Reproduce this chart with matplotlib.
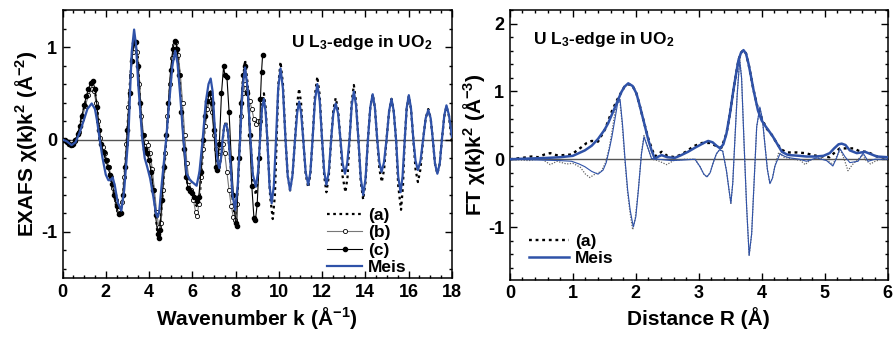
import matplotlib
matplotlib.use("Agg")
import matplotlib.pyplot as plt
from matplotlib.ticker import MultipleLocator

plt.rcParams['font.family'] = ['Liberation Sans', 'DejaVu Sans']
plt.rcParams['font.weight'] = 'bold'
plt.rcParams['mathtext.fontset'] = 'custom'
plt.rcParams['mathtext.rm'] = 'Liberation Sans:bold'
plt.rcParams['mathtext.it'] = 'Liberation Sans:bold'
plt.rcParams['mathtext.bf'] = 'Liberation Sans:bold'
plt.rcParams['axes.unicode_minus'] = False

# ---- left panel: k-space EXAFS, (k, chi*k^2) ----
meis_k = [
    (0, 0), (0.2, -0.02), (0.42, -0.06), (0.6, -0.03), (0.8, 0.08), (1.0, 0.22), (1.15, 0.33),
    (1.35, 0.39), (1.5, 0.33), (1.6, 0.2), (1.72, 0.0), (1.85, -0.2), (2.0, -0.38), (2.12, -0.44),
    (2.22, -0.44), (2.32, -0.41), (2.42, -0.5), (2.55, -0.68), (2.72, -0.77), (2.85, -0.55),
    (2.95, -0.25), (3.05, 0.05), (3.13, 0.55), (3.2, 0.95), (3.31, 1.19), (3.4, 1.02), (3.5, 0.6),
    (3.6, 0.28), (3.69, 0.0), (3.8, -0.2), (3.92, -0.3), (4.05, -0.42), (4.2, -0.62), (4.32, -0.8),
    (4.39, -0.84), (4.47, -0.78), (4.6, -0.45), (4.79, 0.0), (4.95, 0.45), (5.08, 0.8), (5.21, 0.96),
    (5.32, 0.82), (5.45, 0.45), (5.59, 0.0), (5.74, -0.37), (5.9, -0.44), (6.05, -0.47), (6.2, -0.5),
    (6.33, -0.35), (6.48, 0.0), (6.62, 0.4), (6.75, 0.6), (6.85, 0.66), (6.94, 0.52), (7.02, 0.2),
    (7.09, 0.0), (7.17, -0.24), (7.25, -0.31), (7.33, -0.2), (7.4, 0.0), (7.48, 0.15), (7.56, 0.17),
    (7.64, 0.1), (7.75, -0.2), (7.86, -0.6), (7.98, -0.76), (8.1, -0.5), (8.21, 0.0), (8.32, 0.55),
    (8.44, 0.78), (8.56, 0.55), (8.69, 0.0), (8.8, -0.38), (8.94, -0.51), (9.04, -0.35), (9.13, 0.0),
    (9.22, 0.33), (9.31, 0.44), (9.39, 0.3), (9.47, 0.0), (9.57, -0.5), (9.67, -0.69), (9.77, -0.5),
    (9.87, 0.0), (9.97, 0.55), (10.08, 0.77), (10.19, 0.55), (10.31, 0.0), (10.41, -0.39),
    (10.52, -0.55), (10.63, -0.39), (10.75, 0.0), (10.85, 0.29), (10.94, 0.41), (11.03, 0.29),
    (11.13, 0.0), (11.24, -0.35), (11.36, -0.49), (11.46, -0.35), (11.56, 0.0), (11.67, 0.42),
    (11.78, 0.6), (11.89, 0.42), (12.0, 0.0), (12.1, -0.35), (12.2, -0.49), (12.31, -0.35),
    (12.42, 0.0), (12.52, 0.28), (12.63, 0.39), (12.74, 0.28), (12.85, 0.0), (12.95, -0.26),
    (13.06, -0.37), (13.16, -0.26), (13.27, 0.0), (13.37, 0.37), (13.47, 0.52), (13.57, 0.37),
    (13.68, 0.0), (13.79, -0.42), (13.9, -0.6), (14.01, -0.42), (14.12, 0.0), (14.23, 0.35),
    (14.34, 0.49), (14.44, 0.35), (14.55, 0.0), (14.65, -0.25), (14.75, -0.35), (14.86, -0.25),
    (14.98, 0.0), (15.1, 0.31), (15.21, 0.44), (15.31, 0.31), (15.42, 0.0), (15.52, -0.4),
    (15.63, -0.57), (15.72, -0.4), (15.82, 0.0), (15.91, 0.34), (16.01, 0.48), (16.11, 0.34),
    (16.22, 0.0), (16.32, -0.23), (16.43, -0.33), (16.55, -0.23), (16.67, 0.0), (16.79, 0.23),
    (16.91, 0.32), (17.02, 0.23), (17.12, 0.0), (17.22, -0.26), (17.33, -0.37), (17.44, -0.26),
    (17.54, 0.0), (17.65, 0.26), (17.75, 0.37), (17.87, 0.26), (18.0, 0.03),
]

a_k = [
    (0, 0), (0.2, -0.03), (0.42, -0.07), (0.6, -0.02), (0.8, 0.15), (1.0, 0.35), (1.2, 0.52),
    (1.38, 0.6), (1.5, 0.52), (1.62, 0.3), (1.75, 0.0), (1.9, -0.12), (2.05, -0.28), (2.2, -0.4),
    (2.35, -0.55), (2.5, -0.75), (2.62, -0.82), (2.75, -0.7), (2.88, -0.35), (3.0, 0.1), (3.1, 0.55),
    (3.2, 0.9), (3.35, 1.08), (3.48, 0.9), (3.58, 0.45), (3.7, 0.05), (3.82, -0.1), (3.95, -0.15),
    (4.1, -0.3), (4.25, -0.65), (4.38, -1.0), (4.45, -1.06), (4.55, -0.85), (4.68, -0.4), (4.8, 0.0),
    (4.95, 0.5), (5.1, 0.9), (5.22, 1.07), (5.35, 0.9), (5.5, 0.4), (5.62, 0.0), (5.75, -0.45),
    (5.9, -0.55), (6.05, -0.6), (6.2, -0.72), (6.35, -0.6), (6.5, -0.1), (6.62, 0.3), (6.75, 0.5),
    (6.85, 0.52), (6.95, 0.35), (7.05, 0.05), (7.15, -0.25), (7.25, -0.33), (7.35, -0.15),
    (7.45, 0.1), (7.56, 0.2), (7.66, 0.05), (7.78, -0.3), (7.88, -0.7), (7.98, -0.85), (8.1, -0.55),
    (8.21, 0.0), (8.32, 0.6), (8.44, 0.86), (8.56, 0.6), (8.69, 0.0), (8.8, -0.42), (8.94, -0.6),
    (9.04, -0.4), (9.13, 0.0), (9.22, 0.36), (9.31, 0.5), (9.39, 0.35), (9.47, 0.0), (9.6, -0.62),
    (9.72, -0.86), (9.82, -0.6), (9.9, 0.0), (9.98, 0.6), (10.08, 0.84), (10.19, 0.6), (10.31, 0.0),
    (10.41, -0.39), (10.52, -0.55), (10.63, -0.39), (10.75, 0.0), (10.85, 0.39), (10.94, 0.55),
    (11.03, 0.39), (11.13, 0.0), (11.24, -0.37), (11.36, -0.52), (11.46, -0.37), (11.56, 0.0),
    (11.67, 0.48), (11.78, 0.68), (11.89, 0.48), (12.0, 0.0), (12.1, -0.4), (12.2, -0.57),
    (12.31, -0.4), (12.42, 0.0), (12.52, 0.32), (12.63, 0.45), (12.74, 0.32), (12.85, 0.0),
    (12.95, -0.4), (13.08, -0.57), (13.18, -0.4), (13.27, 0.0), (13.37, 0.41), (13.47, 0.59),
    (13.57, 0.41), (13.68, 0.0), (13.79, -0.46), (13.9, -0.65), (14.01, -0.46), (14.12, 0.0),
    (14.23, 0.35), (14.34, 0.49), (14.44, 0.35), (14.55, 0.0), (14.65, -0.32), (14.76, -0.46),
    (14.87, -0.32), (14.98, 0.0), (15.1, 0.31), (15.21, 0.44), (15.31, 0.31), (15.42, 0.0),
    (15.52, -0.5), (15.65, -0.76), (15.74, -0.5), (15.82, 0.0), (15.91, 0.33), (16.01, 0.47),
    (16.11, 0.33), (16.22, 0.0), (16.32, -0.32), (16.43, -0.46), (16.55, -0.32), (16.67, 0.0),
    (16.79, 0.23), (16.91, 0.33), (17.02, 0.23), (17.12, 0.0), (17.22, -0.26), (17.33, -0.37),
    (17.44, -0.26), (17.54, 0.0), (17.65, 0.25), (17.75, 0.36), (17.87, 0.25), (18.0, -0.04),
]

b_k = [
    (0, 0), (0.15, -0.02), (0.3, -0.05), (0.45, -0.06), (0.6, -0.02), (0.75, 0.08), (0.9, 0.22),
    (1.05, 0.36), (1.2, 0.48), (1.35, 0.55), (1.45, 0.53), (1.55, 0.4), (1.65, 0.2), (1.75, 0.02),
    (1.85, -0.08), (1.95, -0.15), (2.05, -0.22), (2.15, -0.3), (2.25, -0.4), (2.35, -0.52),
    (2.45, -0.65), (2.55, -0.76), (2.65, -0.8), (2.75, -0.68), (2.85, -0.4), (2.95, -0.05),
    (3.05, 0.35), (3.15, 0.7), (3.25, 0.95), (3.35, 1.05), (3.45, 0.95), (3.55, 0.6), (3.65, 0.25),
    (3.75, 0.05), (3.85, -0.03), (3.95, -0.06), (4.05, -0.15), (4.15, -0.32), (4.25, -0.55),
    (4.35, -0.78), (4.45, -0.95), (4.55, -0.9), (4.65, -0.55), (4.75, -0.15), (4.85, 0.25),
    (4.95, 0.6), (5.05, 0.88), (5.15, 1.02), (5.25, 1.05), (5.35, 0.92), (5.45, 0.7), (5.55, 0.4),
    (5.65, 0.05), (5.75, -0.25), (5.85, -0.45), (5.95, -0.55), (6.05, -0.65), (6.15, -0.78),
    (6.22, -0.83), (6.3, -0.7), (6.4, -0.4), (6.5, -0.1), (6.6, 0.15), (6.7, 0.33), (6.8, 0.42),
    (6.9, 0.3), (7.0, 0.05), (7.1, -0.1), (7.2, -0.15), (7.3, -0.12), (7.4, -0.05), (7.5, -0.15),
    (7.6, -0.35), (7.7, -0.55), (7.8, -0.72), (7.9, -0.84), (7.98, -0.87), (8.05, -0.7),
    (8.15, -0.2), (8.25, 0.25), (8.35, 0.5), (8.45, 0.6), (8.55, 0.52), (8.65, 0.42), (8.75, 0.33),
    (8.85, 0.22), (8.95, 0.17), (9.05, 0.2), (9.12, 0.2),
]

c_k = [
    (0, 0), (0.1, -0.01), (0.2, -0.03), (0.3, -0.05), (0.4, -0.06), (0.5, -0.05), (0.6, -0.01),
    (0.7, 0.06), (0.8, 0.15), (0.9, 0.26), (1.0, 0.37), (1.1, 0.47), (1.2, 0.55), (1.3, 0.61),
    (1.4, 0.63), (1.5, 0.55), (1.6, 0.35), (1.7, 0.1), (1.8, -0.05), (1.9, -0.14), (2.0, -0.22),
    (2.1, -0.3), (2.2, -0.38), (2.3, -0.48), (2.4, -0.6), (2.5, -0.72), (2.6, -0.81), (2.7, -0.8),
    (2.8, -0.6), (2.9, -0.3), (3.0, 0.1), (3.1, 0.5), (3.2, 0.85), (3.3, 1.04), (3.4, 1.05),
    (3.5, 0.8), (3.6, 0.4), (3.7, 0.05), (3.8, -0.1), (3.9, -0.15), (4.0, -0.22), (4.1, -0.35),
    (4.2, -0.55), (4.3, -0.82), (4.4, -1.02), (4.45, -1.07), (4.5, -0.98), (4.6, -0.65), (4.7, -0.3),
    (4.8, 0.05), (4.9, 0.4), (5.0, 0.75), (5.1, 0.98), (5.2, 1.07), (5.3, 0.98), (5.4, 0.7),
    (5.5, 0.3), (5.6, -0.1), (5.7, -0.4), (5.8, -0.52), (5.9, -0.56), (6.0, -0.58), (6.1, -0.62),
    (6.2, -0.66), (6.3, -0.62), (6.4, -0.35), (6.5, 0.0), (6.6, 0.25), (6.7, 0.42), (6.8, 0.5),
    (6.9, 0.4), (7.0, 0.1), (7.1, -0.3), (7.15, -0.33), (7.25, -0.05), (7.35, 0.5), (7.45, 0.8),
    (7.5, 0.7), (7.6, 0.68), (7.7, 0.3), (7.8, -0.2), (7.9, -0.6), (8.0, -0.9), (8.05, -0.94),
    (8.15, -0.2), (8.25, 0.4), (8.35, 0.7), (8.45, 0.8), (8.55, 0.5), (8.65, 0.05), (8.75, -0.5),
    (8.85, -0.85), (8.92, -0.87), (9.0, -0.7), (9.1, -0.2), (9.15, 0.44), (9.2, 0.73), (9.25, 0.91),
]

# ---- right panel: Fourier transform, (R, value) ----
meis_mag = [
    (0, 0.0), (0.3, 0.01), (0.6, 0.02), (0.8, 0.03), (1.0, 0.05), (1.19, 0.13), (1.3, 0.2),
    (1.4, 0.3), (1.5, 0.43), (1.56, 0.53), (1.62, 0.66), (1.67, 0.77), (1.72, 0.88), (1.77, 0.99),
    (1.82, 1.07), (1.88, 1.12), (1.95, 1.08), (2.01, 0.97), (2.06, 0.8), (2.12, 0.58), (2.16, 0.43),
    (2.2, 0.28), (2.25, 0.13), (2.3, 0.01), (2.36, 0.04), (2.41, 0.06), (2.5, 0.03), (2.62, 0.02),
    (2.72, 0.06), (2.83, 0.11), (2.94, 0.17), (3.02, 0.21), (3.1, 0.25), (3.15, 0.27), (3.22, 0.25),
    (3.28, 0.2), (3.34, 0.16), (3.39, 0.22), (3.44, 0.38), (3.5, 0.7), (3.55, 1.02), (3.6, 1.3),
    (3.63, 1.46), (3.67, 1.57), (3.71, 1.61), (3.75, 1.56), (3.79, 1.41), (3.83, 1.22), (3.87, 1.02),
    (3.94, 0.72), (4.0, 0.57), (4.05, 0.5), (4.12, 0.41), (4.18, 0.33), (4.25, 0.22), (4.32, 0.11),
    (4.4, 0.07), (4.45, 0.06), (4.6, 0.05), (4.71, 0.04), (4.85, 0.04), (4.98, 0.05), (5.08, 0.09),
    (5.15, 0.16), (5.22, 0.22), (5.27, 0.23), (5.33, 0.21), (5.4, 0.13), (5.51, 0.09), (5.58, 0.1),
    (5.64, 0.11), (5.72, 0.08), (5.83, 0.04), (6.0, 0.03),
]

meis_im = [
    (0, 0), (0.4, -0.01), (0.8, -0.02), (0.98, -0.03), (1.1, -0.07), (1.19, -0.11), (1.3, -0.18),
    (1.4, -0.22), (1.48, -0.16), (1.53, -0.05), (1.58, 0.15), (1.62, 0.33), (1.67, 0.6),
    (1.71, 0.82), (1.75, 0.88), (1.79, 0.5), (1.83, -0.02), (1.87, -0.45), (1.91, -0.75),
    (1.96, -1.0), (2.0, -0.85), (2.04, -0.46), (2.09, 0.08), (2.13, 0.33), (2.18, 0.2), (2.25, 0.01),
    (2.35, 0.0), (2.57, -0.02), (2.78, -0.01), (2.94, 0.0), (3.02, -0.11), (3.08, -0.22),
    (3.13, -0.26), (3.18, -0.2), (3.23, -0.05), (3.28, 0.08), (3.33, 0.14), (3.38, 0.12),
    (3.44, -0.17), (3.48, -0.45), (3.51, -0.65), (3.54, -0.35), (3.57, 0.22), (3.61, 0.95),
    (3.65, 1.46), (3.68, 1.2), (3.72, 0.22), (3.76, -0.7), (3.8, -1.42), (3.84, -1.1), (3.87, -0.51),
    (3.92, 0.48), (3.97, 0.77), (4.01, 0.6), (4.05, 0.22), (4.09, -0.15), (4.13, -0.36),
    (4.17, -0.28), (4.21, -0.1), (4.29, 0.08), (4.37, 0.04), (4.45, 0.02), (4.6, 0.0), (4.71, -0.03),
    (4.87, 0.02), (5.03, -0.02), (5.13, -0.1), (5.19, 0.02), (5.24, 0.16), (5.32, 0.04),
    (5.4, -0.05), (5.53, -0.03), (5.61, 0.09), (5.69, -0.03), (5.8, 0.0), (6.0, 0.0),
]

a_mag = [
    (0, 0), (0.2, 0.02), (0.34, 0.04), (0.45, 0.03), (0.55, 0.07), (0.64, 0.09), (0.74, 0.06),
    (0.84, 0.06), (0.98, 0.07), (1.14, 0.18), (1.22, 0.24), (1.3, 0.27), (1.4, 0.26), (1.51, 0.44),
    (1.62, 0.71), (1.7, 0.87), (1.77, 0.99), (1.82, 1.07), (1.88, 1.11), (1.95, 1.08), (2.01, 0.97),
    (2.06, 0.8), (2.12, 0.58), (2.2, 0.3), (2.3, 0.04), (2.36, 0.08), (2.41, 0.11), (2.5, 0.05),
    (2.62, 0.03), (2.72, 0.07), (2.83, 0.13), (2.91, 0.19), (3.05, 0.24), (3.18, 0.24), (3.31, 0.18),
    (3.36, 0.17), (3.44, 0.38), (3.5, 0.7), (3.55, 1.02), (3.6, 1.3), (3.63, 1.46), (3.67, 1.57),
    (3.71, 1.61), (3.75, 1.56), (3.79, 1.41), (3.83, 1.22), (3.87, 1.02), (3.94, 0.74), (4.0, 0.6),
    (4.08, 0.45), (4.16, 0.36), (4.25, 0.22), (4.32, 0.14), (4.4, 0.1), (4.56, 0.1), (4.69, 0.09),
    (4.87, 0.05), (5.08, 0.03), (5.16, 0.1), (5.24, 0.16), (5.35, 0.16), (5.46, 0.16), (5.55, 0.12),
    (5.64, 0.11), (5.72, 0.09), (5.83, 0.04), (6.0, 0.02),
]

a_im = [
    (0, 0), (0.3, -0.02), (0.5, 0.01), (0.64, -0.08), (0.75, -0.03), (0.9, -0.07), (1.0, -0.06),
    (1.12, -0.12), (1.2, -0.22), (1.27, -0.27), (1.35, -0.22), (1.45, -0.18), (1.52, -0.05),
    (1.58, 0.18), (1.62, 0.4), (1.67, 0.7), (1.71, 0.9), (1.74, 0.92), (1.78, 0.55), (1.83, -0.05),
    (1.87, -0.5), (1.91, -0.8), (1.95, -1.04), (1.99, -0.88), (2.04, -0.45), (2.09, 0.1),
    (2.13, 0.35), (2.18, 0.2), (2.25, 0.0), (2.35, -0.02), (2.49, -0.08), (2.6, -0.02), (2.78, 0.0),
    (2.94, 0.0), (3.02, -0.11), (3.08, -0.22), (3.13, -0.26), (3.18, -0.2), (3.23, -0.05),
    (3.28, 0.08), (3.33, 0.14), (3.38, 0.12), (3.44, -0.17), (3.48, -0.45), (3.51, -0.65),
    (3.54, -0.35), (3.57, 0.22), (3.61, 0.95), (3.65, 1.48), (3.68, 1.2), (3.72, 0.22), (3.76, -0.7),
    (3.8, -1.42), (3.84, -1.1), (3.87, -0.51), (3.92, 0.48), (3.97, 0.75), (4.01, 0.6), (4.05, 0.22),
    (4.09, -0.15), (4.13, -0.36), (4.17, -0.28), (4.21, -0.1), (4.27, 0.1), (4.35, 0.03), (4.5, 0.0),
    (4.62, -0.02), (4.69, -0.08), (4.76, -0.02), (4.9, 0.02), (5.05, -0.02), (5.13, -0.08),
    (5.2, 0.06), (5.25, 0.14), (5.31, 0.0), (5.37, -0.17), (5.44, -0.08), (5.53, 0.0), (5.6, 0.06),
    (5.66, -0.02), (5.73, -0.07), (5.8, -0.03), (5.9, 0.0), (6.0, 0.0),
]

blue = '#2f52a8'
dotted = (0, (1.2, 1.6))


def xy(pts):
    return [p[0] for p in pts], [p[1] for p in pts]


def style_axes(ax):
    ax.tick_params(which='both', direction='in', top=True, right=True, labelsize=13, width=1,
                   pad=4)
    ax.tick_params(which='major', length=5)
    ax.tick_params(which='minor', length=2.5)
    for sp in ax.spines.values():
        sp.set_linewidth(1.1)
    for lab in ax.get_xticklabels() + ax.get_yticklabels():
        lab.set_fontweight('bold')


fig = plt.figure(figsize=(8.93, 3.38), dpi=100)
ax1 = fig.add_axes([0.070, 0.177, 0.436, 0.793])
ax2 = fig.add_axes([0.571, 0.172, 0.423, 0.798])

# left panel
ax1.axhline(0, color='#555555', lw=1.0, zorder=1)
ax1.plot(*xy(a_k), color='black', lw=1.6, ls=dotted, label='(a)', zorder=2)
ax1.plot(*xy(b_k), color='#777777', lw=0.8, marker='o', ms=3, mfc='white', mec='black',
         mew=0.6, label='(b)', zorder=3)
ax1.plot(*xy(c_k), color='black', lw=0.8, marker='o', ms=3, mfc='black', mec='black',
         label='(c)', zorder=3)
ax1.plot(*xy(meis_k), color=blue, lw=1.6, label='Meis', zorder=4)
ax1.set_xlim(0, 18)
ax1.set_ylim(-1.5, 1.4)
ax1.xaxis.set_major_locator(MultipleLocator(2))
ax1.xaxis.set_minor_locator(MultipleLocator(0.5))
ax1.yaxis.set_major_locator(MultipleLocator(1))
ax1.yaxis.set_minor_locator(MultipleLocator(0.2))
style_axes(ax1)
ax1.set_xlabel('Wavenumber k (Å$^{-1}$)', fontsize=15, fontweight='bold', labelpad=3)
ax1.set_ylabel('EXAFS $\\chi$(k)k$^{2}$ (Å$^{-2}$)', fontsize=15, fontweight='bold', labelpad=1)
ax1.text(0.95, 0.915, 'U L$_{3}$-edge in UO$_{2}$', transform=ax1.transAxes, ha='right',
         va='top', fontsize=12.5, fontweight='bold')
ax1.legend(loc='lower left', bbox_to_anchor=(0.68, 0.012), frameon=False,
           handlelength=2.0, handletextpad=0.35, labelspacing=0.12, borderpad=0, borderaxespad=0,
           prop={'weight': 'bold', 'size': 12.5})

# right panel
ax2.axhline(0, color='#555555', lw=1.0, zorder=1)
ax2.plot(*xy(a_im), color='#666666', lw=0.9, ls=(0, (1, 1.2)), zorder=2)
ax2.plot(*xy(a_mag), color='black', lw=1.7, ls=dotted, label='(a)', zorder=2)
ax2.plot(*xy(meis_im), color=blue, lw=0.8, zorder=3)
ax2.plot(*xy(meis_mag), color=blue, lw=1.8, label='Meis', zorder=4)
ax2.set_xlim(0, 6)
ax2.set_ylim(-1.78, 2.2)
ax2.xaxis.set_major_locator(MultipleLocator(1))
ax2.xaxis.set_minor_locator(MultipleLocator(0.2))
ax2.yaxis.set_major_locator(MultipleLocator(1))
ax2.yaxis.set_minor_locator(MultipleLocator(0.2))
style_axes(ax2)
ax2.set_xlabel('Distance R (Å)', fontsize=15, fontweight='bold', labelpad=3)
ax2.set_ylabel('FT $\\chi$(k)k$^{2}$ (Å$^{-3}$)', fontsize=15, fontweight='bold', labelpad=1)
ax2.text(0.061, 0.925, 'U L$_{3}$-edge in UO$_{2}$', transform=ax2.transAxes, ha='left',
         va='top', fontsize=12.5, fontweight='bold')
ax2.legend(loc='lower left', bbox_to_anchor=(0.05, 0.05), frameon=False,
           handlelength=2.3, handletextpad=0.35, labelspacing=0.12, borderpad=0, borderaxespad=0,
           prop={'weight': 'bold', 'size': 12.5})

fig.savefig('out.png', dpi=100)
